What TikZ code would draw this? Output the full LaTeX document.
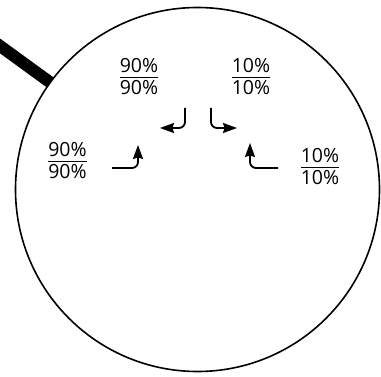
\documentclass[tikz,border=0pt]{standalone}
\usepackage{fontspec}
\setmainfont{Open Sans}
\usetikzlibrary{arrows.meta}
\newcommand\frc[2]{\begin{tabular}{@{}c@{}}#1\\[-3pt]\hline\rule{0pt}{17.5pt}#2\end{tabular}}
\begin{document}
\begin{tikzpicture}[x=1pt,y=-1pt,
  lens/.style={line width=1.6pt},
  handle/.style={line width=12pt},
  frac/.style={inner sep=0pt,font=\fontsize{19.5}{23.4}\selectfont},
  arr/.style={line width=1.8pt,rounded corners=6pt,-{Stealth[length=14pt,width=10pt,inset=1.5pt]}}]
\useasboundingbox (0,0) rectangle (381,377);
\coordinate (c) at (197.5,189.5);
\draw[lens] (c) circle [radius=182];
\coordinate (h1) at (50.3,82.5);
\coordinate (h2) at (-20,31.4);
\draw[handle] (h1) -- (h2);
\node[frac] (f1) at (139,79) {\frc{90\%}{90\%}};
\node[frac] (f2) at (251,79) {\frc{10\%}{10\%}};
\node[frac] (f3) at (67.5,163) {\frc{90\%}{90\%}};
\node[frac] (f4) at (320,169) {\frc{10\%}{10\%}};
\coordinate (a1s) at (185,108);
\coordinate (a1e) at (160,128);
\coordinate (a2s) at (211,108);
\coordinate (a2e) at (237,128);
\coordinate (a3s) at (112,168);
\coordinate (a3e) at (138,145);
\coordinate (a4s) at (278,168);
\coordinate (a4e) at (250,143);
\draw[arr] (a1s) |- (a1e);
\draw[arr] (a2s) |- (a2e);
\draw[arr] (a3s) -| (a3e);
\draw[arr] (a4s) -| (a4e);
\end{tikzpicture}
\end{document}
